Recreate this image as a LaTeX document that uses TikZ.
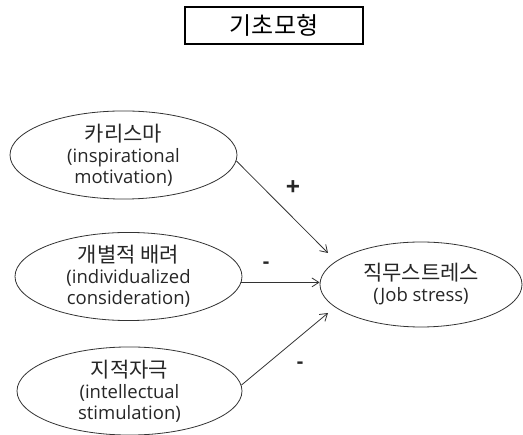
\documentclass[tikz,border=0pt]{standalone}
\usepackage{fontspec}
\setmainfont{Open Sans}
\newfontfamily\kr{Noto Sans CJK KR}
\usetikzlibrary{shapes.geometric,arrows.meta}
\tikzset{
  oval/.style={draw=black!80, line width=0.8pt, ellipse, inner sep=0pt, align=center,
    font=\fontsize{18.5}{21}\selectfont, text=black!85},
  arr/.style={draw=black!80, line width=0.8pt, -{Straight Barb[length=7pt,width=9pt]}},
  sign/.style={font=\fontsize{20}{20}\selectfont\bfseries, text=black!85, inner sep=0pt}
}
\newcommand{\ko}[1]{{\kr\fontsize{21}{21}\selectfont #1}}
\begin{document}
\begin{tikzpicture}[x=1pt,y=-1pt]
\useasboundingbox (0,0) rectangle (523,435);
\node[draw=black, line width=1.8pt, minimum width=178pt, minimum height=37pt, inner sep=0pt,
  font=\kr\fontsize{24}{25}\selectfont] (title) at (274,25.5) {기초모형};
\node[oval, minimum width=227pt, minimum height=86pt] (e1) at (123.5,155)
  {\ko{카리스마}\\(inspirational\\motivation)};
\node[oval, minimum width=227pt, minimum height=87pt] (e2) at (128.5,276.5)
  {\ko{개별적 배려}\\(individualized\\consideration)};
\node[oval, minimum width=225pt, minimum height=86pt] (e3) at (129.5,391)
  {\ko{지적자극}\\(intellectual\\stimulation)};
\node[oval, minimum width=202pt, minimum height=85pt] (js) at (421,284.5)
  {\ko{직무스트레스}\\(Job stress)};
\coordinate (a1) at (328,253);
\coordinate (a3) at (328,313);
\draw[arr] (e1.-3) -- (a1);
\draw[arr] (e2.-3) -- (js.west |- e2.-3);
\draw[arr] (e3.3) -- (a3);
\node[sign, font=\fontsize{25}{25}\selectfont\bfseries] (s1) at (293,188) {+};
\node[sign] (s2) at (266,265) {-};
\node[sign] (s3) at (300,365) {-};
\end{tikzpicture}
\end{document}
